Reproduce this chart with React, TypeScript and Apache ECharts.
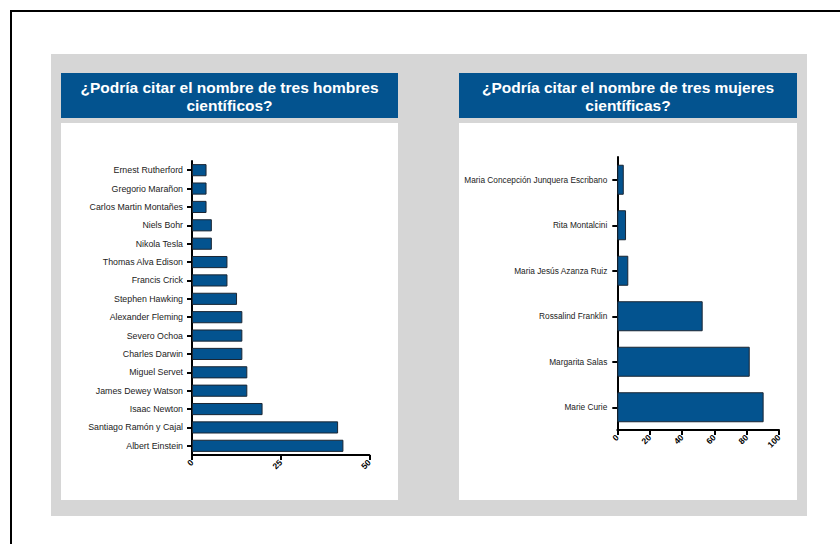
import React, { useEffect, useRef } from "react";
import * as echarts from "echarts";

const menNames = [
  "Ernest Rutherford",
  "Gregorio Marañon",
  "Carlos Martin Montañes",
  "Niels Bohr",
  "Nikola Tesla",
  "Thomas Alva Edison",
  "Francis Crick",
  "Stephen Hawking",
  "Alexander Fleming",
  "Severo Ochoa",
  "Charles Darwin",
  "Miguel Servet",
  "James Dewey Watson",
  "Isaac Newton",
  "Santiago Ramón y Cajal",
  "Albert Einstein",
];
const menValues = [4.1, 4.1, 4.1, 5.6, 5.6, 10, 10, 12.7, 14.2, 14.2, 14.2, 15.6, 15.6, 19.9, 41.2, 42.7];

const womenNames = [
  "Maria Concepción Junquera Escribano",
  "Rita Montalcini",
  "Maria Jesús Azanza Ruiz",
  "Rossalind Franklin",
  "Margarita Salas",
  "Marie Curie",
];
const womenValues = [4, 5.4, 6.8, 52.8, 81.9, 90.5];

const menTicks = { min: 0, max: 50, interval: 25 };
const womenTicks = { min: 0, max: 100, interval: 20 };

const titleMen = "¿Podría citar el nombre de tres hombres\ncientíficos?";
const titleWomen = "¿Podría citar el nombre de tres mujeres\ncientíficas?";

const BLUE = "#03538f";
const FONT = "'Liberation Sans', Arial, sans-serif";

export default function App() {
  const ref = useRef<HTMLDivElement>(null);
  useEffect(() => {
    if (!ref.current) return;
    const chart = echarts.init(ref.current, null, { renderer: "svg" });
    const axisLine = { show: true, lineStyle: { color: "#000", width: 2 } };
    const yAxisCommon = (data: string[], margin: number, fontSize: number) => ({
      type: "category" as const,
      data,
      inverse: true,
      axisLine,
      axisTick: { show: true, alignWithLabel: true, length: 5, inside: false, lineStyle: { color: "#000", width: 2 } },
      axisLabel: { color: "#222", fontSize, fontFamily: FONT, margin },
      splitLine: { show: false },
    });
    const xAxisCommon = (t: { min: number; max: number; interval: number }) => ({
      type: "value" as const,
      min: t.min,
      max: t.max,
      interval: t.interval,
      axisLine,
      axisTick: { show: true, length: 5, lineStyle: { color: "#000", width: 2 } },
      axisLabel: { color: "#000", fontSize: 8.5, fontWeight: "bold", fontFamily: FONT, rotate: 45, margin: 6 },
      splitLine: { show: false },
    });
    const bgZ = -10;
    chart.setOption({
      animation: false,
      backgroundColor: "#fff",
      graphic: [
        { type: "line", z: bgZ, shape: { x1: 11, y1: 11, x2: 840, y2: 11 }, style: { stroke: "#000", lineWidth: 2 } },
        { type: "line", z: bgZ, shape: { x1: 11, y1: 10, x2: 11, y2: 544 }, style: { stroke: "#000", lineWidth: 2 } },
        { type: "rect", z: bgZ, shape: { x: 51, y: 54, width: 756, height: 462 }, style: { fill: "#d6d6d6" } },
        { type: "rect", z: bgZ, shape: { x: 61, y: 123, width: 337, height: 377 }, style: { fill: "#ffffff" } },
        { type: "rect", z: bgZ, shape: { x: 459, y: 123, width: 338, height: 377 }, style: { fill: "#ffffff" } },
        { type: "rect", z: bgZ, shape: { x: 61, y: 73, width: 337, height: 45 }, style: { fill: BLUE } },
        { type: "rect", z: bgZ, shape: { x: 459, y: 73, width: 338, height: 45 }, style: { fill: BLUE } },
        {
          type: "text",
          z: 5,
          x: 229.5,
          y: 96,
          style: {
            text: titleMen,
            fill: "#fff",
            font: `bold 15.5px ${FONT}`,
            lineHeight: 18,
            textAlign: "center",
            textVerticalAlign: "middle",
          },
        },
        {
          type: "text",
          z: 5,
          x: 628,
          y: 96,
          style: {
            text: titleWomen,
            fill: "#fff",
            font: `bold 15.5px ${FONT}`,
            lineHeight: 18,
            textAlign: "center",
            textVerticalAlign: "middle",
          },
        },
      ],
      grid: [
        { left: 192, right: 840 - 369.3, top: 161, bottom: 544 - 455 },
        { left: 617.3, right: 840 - 779, top: 157, bottom: 544 - 430 },
      ],
      xAxis: [
        { ...xAxisCommon(menTicks), gridIndex: 0 },
        { ...xAxisCommon(womenTicks), gridIndex: 1 },
      ],
      yAxis: [
        { ...yAxisCommon(menNames, 9, 8.8), gridIndex: 0 },
        { ...yAxisCommon(womenNames, 10, 8.3), gridIndex: 1 },
      ],
      series: [
        {
          type: "bar",
          xAxisIndex: 0,
          yAxisIndex: 0,
          data: menValues,
          barCategoryGap: "34%",
          itemStyle: { color: BLUE, borderColor: "#1b2633", borderWidth: 1 },
        },
        {
          type: "bar",
          xAxisIndex: 1,
          yAxisIndex: 1,
          data: womenValues,
          barCategoryGap: "34%",
          itemStyle: { color: BLUE, borderColor: "#1b2633", borderWidth: 1 },
        },
      ],
    });
    return () => chart.dispose();
  }, []);
  return (
    <div
      ref={ref}
      style={{ position: "absolute", left: 0, top: 0, width: 840, height: 544 }}
    />
  );
}
